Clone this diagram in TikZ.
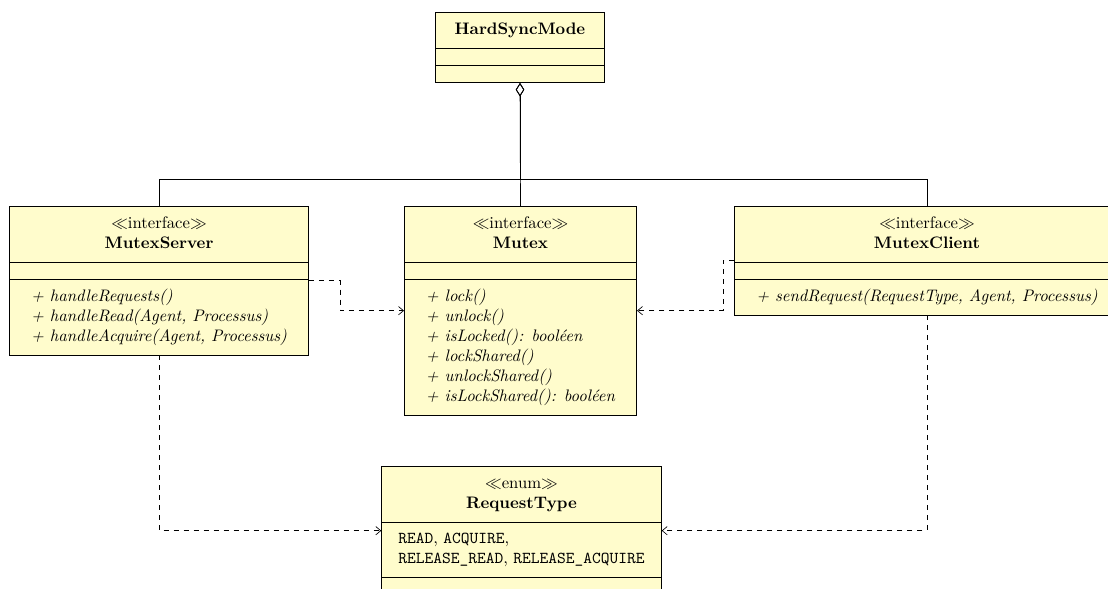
\documentclass[tikz,border=0pt]{standalone}
\usepackage{tikz}
\usetikzlibrary{arrows.meta,shapes.multipart}
\newcommand{\stereo}[1]{$\ll$#1$\gg$}
\newcommand{\emptypart}{\rule{0pt}{1pt}}

\begin{document}
\begin{tikzpicture}[
  every node/.style={font=\rmfamily\normalsize},
  umlclass/.style={rectangle split,rectangle split parts=3,draw,fill=yellow!20,
                   rectangle split part align={center,left,left},
                   inner xsep=13pt,inner ysep=4.5pt,anchor=north},
  aggreg/.style={{Diamond[open,length=8pt,width=5pt]}-},
  dep/.style   ={dashed,-{Straight Barb[length=3pt,width=5pt]}},
  x=0.6pt,y=-0.6pt]

  \clip (0,0) rectangle (1108,588);

  % ===== TOP: aggregate =====
  \node[umlclass,inner xsep=11.5pt] (hsm) at (520,12)
    {\begin{tabular}{@{}c@{}}\textbf{HardSyncMode}\end{tabular}
     \nodepart{two}\emptypart\nodepart{three}\emptypart};

  % ===== MIDDLE ROW: interfaces =====
  \node[umlclass] (srv) at (159,206)
    {\begin{tabular}{@{}c@{}}\stereo{interface}\\\textbf{MutexServer}\end{tabular}
     \nodepart{two}\emptypart
     \nodepart{three}\itshape
     \begin{tabular}{@{}l@{}}+ handleRequests()\\+ handleRead(Agent, Processus)\\
       + handleAcquire(Agent, Processus)\end{tabular}};
  \node[umlclass] (mtx) at (520.5,206)
    {\begin{tabular}{@{}c@{}}\stereo{interface}\\\textbf{Mutex}\end{tabular}
     \nodepart{two}\emptypart
     \nodepart{three}\itshape
     \begin{tabular}{@{}l@{}}+ lock()\\+ unlock()\\+ isLocked(): booléen\\
       + lockShared()\\+ unlockShared()\\+ isLockShared(): booléen\end{tabular}};
  \node[umlclass] (cli) at (927,206)
    {\begin{tabular}{@{}c@{}}\stereo{interface}\\\textbf{MutexClient}\end{tabular}
     \nodepart{two}\emptypart
     \nodepart{three}\itshape
     \begin{tabular}{@{}l@{}}+ sendRequest(RequestType, Agent, Processus)\end{tabular}};

  % ===== BOTTOM: enum =====
  \node[umlclass,inner xsep=10pt] (req) at (521.5,466)
    {\begin{tabular}{@{}c@{}}\stereo{enum}\\\textbf{RequestType}\end{tabular}
     \nodepart{two}
     \begin{tabular}{@{}l@{}}\texttt{READ}, \texttt{ACQUIRE},\\
       \texttt{RELEASE\_READ}, \texttt{RELEASE\_ACQUIRE}\end{tabular}
     \nodepart{three}\emptypart};

  % ===== ARROWS =====
  % aggregation: the three interfaces join below HardSyncMode
  \coordinate (aggjoin) at (520,179);
  \draw[aggreg] (hsm.south) -- (mtx.north);
  \draw[aggreg] (hsm.south) -- (aggjoin) -| (srv.north);
  \draw[aggreg] (hsm.south) -- (aggjoin) -| (cli.north);
  % dependencies towards Mutex
  \coordinate (srvbend) at (340,0);
  \coordinate (clibend) at (723,0);
  \draw[dep] (srv.east) -| (srvbend |- mtx.west) -- (mtx.west);
  \draw[dep] (cli.west) -| (clibend |- mtx.east) -- (mtx.east);
  % dependencies towards RequestType
  \draw[dep] (srv.south) |- (req.west);
  \draw[dep] (cli.south) |- (req.east);

\end{tikzpicture}
\end{document}
